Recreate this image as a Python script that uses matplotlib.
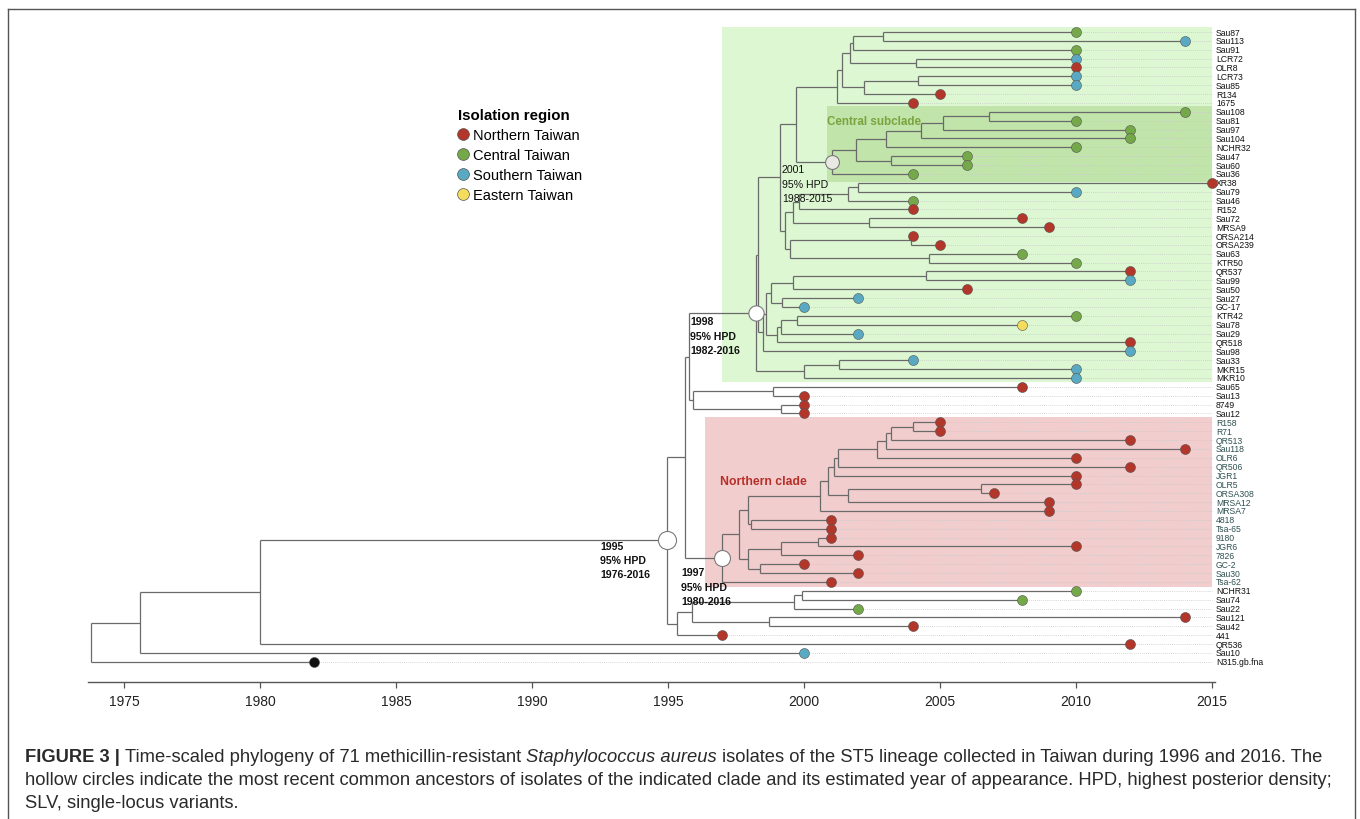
"""
Time-scaled phylogeny of 71 MRSA ST5 isolates from Taiwan (Figure 3 remake).
Saves out.png (1360 x 820 px).
"""

import matplotlib
matplotlib.use('Agg')
import matplotlib.pyplot as plt
from matplotlib.lines import Line2D
from matplotlib.patches import Rectangle

plt.rcParams['font.family'] = ['Liberation Sans', 'DejaVu Sans']

# tips, top to bottom
TIP_NAMES = [
    'Sau87', 'Sau113', 'Sau91', 'LCR72', 'OLR8', 'LCR73', 'Sau85', 'R134', '1675',
    'Sau108', 'Sau81', 'Sau97', 'Sau104', 'NCHR32', 'Sau47', 'Sau60', 'Sau36',
    'XR38', 'Sau79', 'Sau46', 'R152', 'Sau72', 'MRSA9', 'ORSA214', 'ORSA239',
    'Sau63', 'KTR50', 'QR537', 'Sau99', 'Sau50', 'Sau27', 'GC-17', 'KTR42',
    'Sau78', 'Sau29', 'QR518', 'Sau98', 'Sau33', 'MKR15', 'MKR10',
    'Sau65', 'Sau13', '8749', 'Sau12',
    'R158', 'R71', 'QR513', 'Sau118', 'OLR6', 'QR506', 'JGR1', 'OLR5', 'ORSA308',
    'MRSA12', 'MRSA7', '4818', 'Tsa-65', '9180', 'JGR6', '7826', 'GC-2', 'Sau30',
    'Tsa-62',
    'NCHR31', 'Sau74', 'Sau22', 'Sau121', 'Sau42', '441', 'QR536', 'Sau10',
    'N315.gb.fna',
]
TIP_YEARS = [
    2010, 2014, 2010, 2010, 2010, 2010, 2010, 2005, 2004,
    2014, 2010, 2012, 2012, 2010, 2006, 2006, 2004,
    2015, 2010, 2004, 2004, 2008, 2009, 2004, 2005,
    2008, 2010, 2012, 2012, 2006, 2002, 2000, 2010,
    2008, 2002, 2012, 2012, 2004, 2010, 2010,
    2008, 2000, 2000, 2000,
    2005, 2005, 2012, 2014, 2010, 2012, 2010, 2010, 2007,
    2009, 2009, 2001, 2001, 2001, 2010, 2002, 2000, 2002,
    2001,
    2010, 2008, 2002, 2014, 2004, 1997, 2012, 2000,
    1982,
]
TIP_REGIONS = [
    'C', 'S', 'C', 'S', 'N', 'S', 'S', 'N', 'N',
    'C', 'C', 'C', 'C', 'C', 'C', 'C', 'C',
    'N', 'S', 'C', 'N', 'N', 'N', 'N', 'N',
    'C', 'C', 'N', 'S', 'N', 'S', 'S', 'C',
    'E', 'S', 'N', 'S', 'S', 'S', 'S',
    'N', 'N', 'N', 'N',
    'N', 'N', 'N', 'N', 'N', 'N', 'N', 'N', 'N',
    'N', 'N', 'N', 'N', 'N', 'N', 'N', 'N', 'N',
    'N',
    'C', 'C', 'C', 'N', 'N', 'N', 'N', 'S',
    'ref',
]
# tips whose label is printed in the slate colour (northern clade)
NORTHERN_CLADE_TIPS = ['R158', 'R71', 'QR513', 'Sau118', 'OLR6', 'QR506', 'JGR1',
                       'OLR5', 'ORSA308', 'MRSA12', 'MRSA7', '4818', 'Tsa-65',
                       '9180', 'JGR6', '7826', 'GC-2', 'Sau30', 'Tsa-62']

# internal nodes (children listed before parents)
NODE_NAMES = [
    'a1', 'a2', 'a3', 'a4', 'a5', 'a6', 'a7', 'a8',
    'c1', 'c2', 'c3', 'c4', 'c5', 'c6', 'n2001', 'w',
    'd1', 'd2', 'd3', 'd4', 'd5', 'd6', 'd7', 'd8', 'd9', 'y',
    'e1', 'e2', 'e3', 'e4', 'e5', 'e6', 'e7', 'e8', 'e9', 'x',
    'm1', 'm2', 'n1998',
    'g1', 'g2', 'g3', 'nB',
    'h1', 'h2', 'h3', 'h4', 'h5', 'h6', 'h7', 'h8', 'h9', 'h10', 'h11', 'h12',
    'h13', 'h14', 'h15', 'h16', 'h17', 'n1997', 'nA',
    'k1', 'k2', 'k3', 'k4', 'k5', 'n1995', 'r1980', 'r1975', 'root',
]
NODE_YEARS = [
    2002.9, 2001.8, 2004.1, 2001.7, 2004.2, 2002.2, 2001.4, 2001.2,
    2006.8, 2005.1, 2004.3, 2003.0, 2003.2, 2001.9, 2001.03, 1999.72,
    2002.0, 2001.6, 1999.8, 2002.4, 1999.6, 2003.95, 2004.6, 1999.5, 1999.3, 1999.12,
    2004.5, 1999.6, 1999.2, 1998.8, 1999.75, 1999.15, 1999.0, 1998.6, 1998.5, 1998.32,
    2001.3, 2000.0, 1998.22,
    1998.85, 1999.15, 1995.92, 1995.77,
    2004.0, 2003.2, 2003.0, 2002.7, 2001.25, 2001.1, 2006.5, 2001.6, 2000.9, 2000.6,
    1998.06, 1997.95, 2000.5, 1999.15, 1998.38, 1997.95, 1997.6, 1997.0, 1995.62,
    1999.93, 1999.63, 1998.7, 1995.9, 1995.33, 1994.95, 1980.0, 1975.6, 1973.78,
]
NODE_CHILDREN = [
    ('Sau87', 'Sau113'), ('a1', 'Sau91'), ('LCR72', 'OLR8'), ('a2', 'a3'),
    ('LCR73', 'Sau85'), ('a5', 'R134'), ('a4', 'a6'), ('a7', '1675'),
    ('Sau108', 'Sau81'), ('c1', 'Sau97'), ('c2', 'Sau104'), ('c3', 'NCHR32'),
    ('Sau47', 'Sau60'), ('c4', 'c5'), ('c6', 'Sau36'), ('a8', 'n2001'),
    ('XR38', 'Sau79'), ('d1', 'Sau46'), ('d2', 'R152'), ('Sau72', 'MRSA9'),
    ('d3', 'd4'), ('ORSA214', 'ORSA239'), ('Sau63', 'KTR50'), ('d6', 'd7'),
    ('d5', 'd8'), ('w', 'd9'),
    ('QR537', 'Sau99'), ('e1', 'Sau50'), ('Sau27', 'GC-17'), ('e2', 'e3'),
    ('KTR42', 'Sau78'), ('e5', 'Sau29'), ('e6', 'QR518'), ('e4', 'e7'),
    ('e8', 'Sau98'), ('y', 'e9'),
    ('Sau33', 'MKR15'), ('m1', 'MKR10'), ('x', 'm2'),
    ('Sau65', 'Sau13'), ('8749', 'Sau12'), ('g1', 'g2'), ('n1998', 'g3'),
    ('R158', 'R71'), ('h1', 'QR513'), ('h2', 'Sau118'), ('h3', 'OLR6'),
    ('h4', 'QR506'), ('h5', 'JGR1'), ('OLR5', 'ORSA308'), ('h7', 'MRSA12'),
    ('h6', 'h8'), ('h9', 'MRSA7'), ('4818', 'Tsa-65'), ('h10', 'h11'),
    ('9180', 'JGR6'), ('h13', '7826'), ('GC-2', 'Sau30'), ('h14', 'h15'),
    ('h12', 'h16'), ('h17', 'Tsa-62'), ('nB', 'n1997'),
    ('NCHR31', 'Sau74'), ('k1', 'Sau22'), ('Sau121', 'Sau42'), ('k2', 'k3'),
    ('k4', '441'), ('nA', 'k5'), ('n1995', 'QR536'), ('r1980', 'Sau10'),
    ('r1975', 'N315.gb.fna'),
]

# dated MRCA nodes (hollow circles) and their HPD labels
MRCA_NODES = ['n1995', 'n1997', 'n1998', 'n2001']
MRCA_LABELS = [
    ['1995', '95% HPD', '1976-2016'],
    ['1997', '95% HPD', '1980-2016'],
    ['1998', '95% HPD', '1982-2016'],
    ['2001', '95% HPD', '1988-2015'],
]

REGION_NAMES = ['Northern Taiwan', 'Central Taiwan', 'Southern Taiwan', 'Eastern Taiwan']
REGION_KEYS = ['N', 'C', 'S', 'E']
REGION_COLORS = {'N': '#b3362a', 'C': '#74a848', 'S': '#5aa9c2', 'E': '#f4dc5c',
                 'ref': '#111111'}

YEAR_TICKS = [1975, 1980, 1985, 1990, 1995, 2000, 2005, 2010, 2015]

LINE_COLOR = '#6a6a6a'


def main():
    fig = plt.figure(figsize=(13.6, 8.2), dpi=100)
    W, H = 1360, 820
    # axes: x 88..1215 px, y 20..683 px
    ax = fig.add_axes([88 / W, 1 - 683 / H, 1127 / W, 663 / H])
    ax.set_xlim(1973.676, 2015.11)
    ax.set_ylim(74.28, -0.466)

    # --- positions ---
    xpos = dict(zip(TIP_NAMES, TIP_YEARS))
    ypos = {name: i + 1 for i, name in enumerate(TIP_NAMES)}
    xpos.update(zip(NODE_NAMES, NODE_YEARS))
    for name, kids in zip(NODE_NAMES, NODE_CHILDREN):
        ys = [ypos[k] for k in kids]
        ypos[name] = (min(ys) + max(ys)) / 2

    # --- clade shading ---
    ax.add_patch(Rectangle((1996.99, 0.45), 2015.0 - 1996.99, 40.5 - 0.45,
                           facecolor='#dcf7d1', edgecolor='none', zorder=0))
    ax.add_patch(Rectangle((2000.85, 9.35), 2015.0 - 2000.85, 17.9 - 9.35,
                           facecolor='#c0e4a9', edgecolor='none', zorder=0.5))
    ax.add_patch(Rectangle((1996.36, 44.45), 2015.0 - 1996.36, 63.55 - 44.45,
                           facecolor='#f2cdcd', edgecolor='none', zorder=0))

    # --- dotted guides from tips to labels ---
    for name, yr in zip(TIP_NAMES, TIP_YEARS):
        ax.plot([yr, 2015.0], [ypos[name]] * 2, color='#c8c8c8',
                linestyle=(0, (1, 1.5)), linewidth=0.6, zorder=1)

    # --- branches ---
    for name, kids in zip(NODE_NAMES, NODE_CHILDREN):
        x0 = xpos[name]
        ys = [ypos[k] for k in kids]
        ax.plot([x0, x0], [min(ys), max(ys)], color=LINE_COLOR,
                linewidth=0.9, solid_capstyle='butt', zorder=2)
        for k in kids:
            ax.plot([x0, xpos[k]], [ypos[k], ypos[k]], color=LINE_COLOR,
                    linewidth=0.9, solid_capstyle='butt', zorder=2)

    # --- tip points ---
    for name, yr, reg in zip(TIP_NAMES, TIP_YEARS, TIP_REGIONS):
        ax.plot(yr, ypos[name], marker='o', markersize=7.2,
                markerfacecolor=REGION_COLORS[reg], markeredgecolor='#555555',
                markeredgewidth=0.4, linestyle='none', zorder=4, clip_on=False)

    # --- tip labels ---
    for name in TIP_NAMES:
        col = '#2f5050' if name in NORTHERN_CLADE_TIPS else '#111111'
        ax.text(2015.15, ypos[name], name, fontsize=6.2, color=col,
                ha='left', va='center', clip_on=False)

    # --- MRCA circles ---
    circle_sizes = [13, 11.5, 11, 10]
    circle_fills = ['white', 'white', 'white', '#e9e9e4']
    for node, ms, fc in zip(MRCA_NODES, circle_sizes, circle_fills):
        ax.plot(xpos[node], ypos[node], marker='o', markersize=ms,
                markerfacecolor=fc, markeredgecolor='#7a7a7a',
                markeredgewidth=0.8, linestyle='none', zorder=5)

    # HPD text (left x in years, first-line row)
    label_pos = [(1992.5, 58.9), (1995.48, 61.9), (1995.81, 33.6), (1999.19, 16.45)]
    label_weight = ['bold', 'bold', 'bold', 'normal']
    for lines, (lx, ly), wt in zip(MRCA_LABELS, label_pos, label_weight):
        for j, line in enumerate(lines):
            ax.text(lx, ly + j * 1.63, line, fontsize=7.6, fontweight=wt,
                    color='#111111', ha='left', va='center', zorder=6)

    # clade names
    ax.text(2000.85, 11.0, 'Central subclade', fontsize=8.4, fontweight='bold',
            color='#7ca33e', ha='left', va='center', zorder=6)
    ax.text(1996.9, 51.6, 'Northern clade', fontsize=8.8, fontweight='bold',
            color='#b5302a', ha='left', va='center', zorder=6)

    # --- legend ---
    handles = [Line2D([], [], marker='o', linestyle='none', markersize=8.5,
                      markerfacecolor=REGION_COLORS[k], markeredgecolor='#555555',
                      markeredgewidth=0.5) for k in REGION_KEYS]
    leg = fig.legend(handles, REGION_NAMES, title='Isolation region',
                     loc='upper left', bbox_to_anchor=(458 / W, 1 - 109 / H),
                     frameon=False, fontsize=10.5, title_fontsize=10.8,
                     alignment='left', handlelength=0.7, handletextpad=0.35,
                     labelspacing=0.42, borderpad=0, borderaxespad=0)
    leg.get_title().set_fontweight('bold')

    # --- axis ---
    for side in ['top', 'left', 'right']:
        ax.spines[side].set_visible(False)
    ax.spines['bottom'].set_color('#555555')
    ax.spines['bottom'].set_linewidth(1.0)
    ax.set_yticks([])
    ax.set_xticks(YEAR_TICKS)
    ax.set_xticklabels([str(t) for t in YEAR_TICKS])
    ax.tick_params(axis='x', length=4, width=0.9, color='#555555',
                   labelsize=10, labelcolor='#222222', pad=5)
    ax.patch.set_alpha(0)

    # --- frame ---
    for xs, ys in [([8, 8], [10, 820]), ([8, 1355], [10, 10]), ([1355, 1355], [10, 820])]:
        fig.add_artist(Line2D([x / W for x in xs], [1 - y / H for y in ys],
                              color='#555555', linewidth=1.0))

    # --- caption ---
    renderer = fig.canvas.get_renderer()
    cap_size = 13.2
    cap_col = '#2a2a2a'

    def text_width(s, **kw):
        t = fig.text(0, 0, s, fontsize=cap_size, **kw)
        w = t.get_window_extent(renderer).width
        t.remove()
        return w

    space = text_width('a a') - text_width('aa')

    def draw_runs(x_px, y_px, runs):
        for txt, style in runs:
            t = fig.text(x_px / W, 1 - y_px / H, txt, fontsize=cap_size,
                         color=cap_col, va='center', ha='left', **style)
            x_px = t.get_window_extent(renderer).x1 + space

    draw_runs(25, 758, [
        ('FIGURE 3 |', {'fontweight': 'bold'}),
        ('Time-scaled phylogeny of 71 methicillin-resistant', {}),
        ('Staphylococcus aureus', {'fontstyle': 'italic'}),
        ('isolates of the ST5 lineage collected in Taiwan during 1996 and 2016. The', {}),
    ])
    draw_runs(25, 781, [
        ('hollow circles indicate the most recent common ancestors of isolates of the '
         'indicated clade and its estimated year of appearance. HPD, highest posterior density;', {}),
    ])
    draw_runs(25, 804, [('SLV, single-locus variants.', {})])

    fig.savefig('out.png', dpi=100)
    plt.close(fig)


if __name__ == '__main__':
    main()
